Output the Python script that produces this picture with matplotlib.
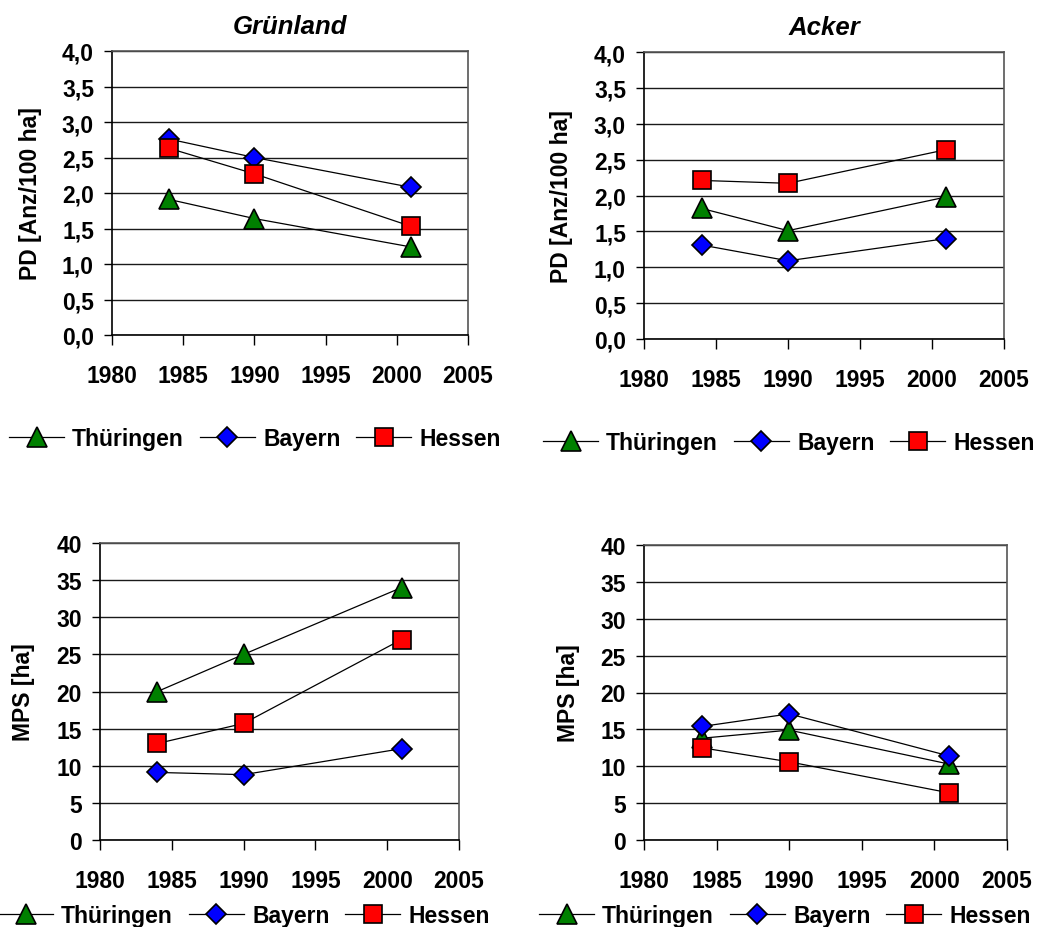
import matplotlib
matplotlib.use("Agg")
import matplotlib.pyplot as plt
from matplotlib.ticker import FuncFormatter

plt.rcParams["font.family"] = ["Liberation Sans", "DejaVu Sans"]
plt.rcParams["font.weight"] = "bold"

# Data
years = [1984, 1990, 2001]
series_names = ["Thüringen", "Bayern", "Hessen"]

pd_gruen_thue = [1.91, 1.64, 1.24]
pd_gruen_bay = [2.76, 2.50, 2.08]
pd_gruen_hes = [2.63, 2.27, 1.53]

pd_acker_thue = [1.82, 1.51, 1.98]
pd_acker_bay = [1.31, 1.09, 1.40]
pd_acker_hes = [2.21, 2.17, 2.64]

mps_gruen_thue = [20.0, 25.0, 34.0]
mps_gruen_bay = [9.1, 8.8, 12.3]
mps_gruen_hes = [13.0, 15.7, 27.0]

mps_acker_thue = [13.8, 14.9, 10.3]
mps_acker_bay = [15.4, 17.1, 11.4]
mps_acker_hes = [12.5, 10.6, 6.4]

x_ticks = [1980, 1985, 1990, 1995, 2000, 2005]

FS = 16.5
W, H = 1040, 928

# marker styles per series
styles = [
    dict(marker="^", markerfacecolor="#008000", markersize=14),
    dict(marker="D", markerfacecolor="#0000FF", markersize=10),
    dict(marker="s", markerfacecolor="#FF0000", markersize=12.5),
]


def comma_fmt(v, pos):
    return f"{v:.1f}".replace(".", ",")


def draw_panel(rect, data, ymax, ystep, ylabel, label_x, title=None, decimals=True):
    l, t, r, b = rect
    ax = fig.add_axes([l / W, 1 - b / H, (r - l) / W, (b - t) / H])
    lines = []
    for vals, st in zip(data, styles):
        (ln,) = ax.plot(years, vals, color="black", linewidth=0.9,
                        markeredgecolor="black", markeredgewidth=1.2, **st)
        lines.append(ln)
    ax.set_xlim(1980, 2005)
    ax.set_ylim(0, ymax)
    ax.set_xticks(x_ticks)
    yt = [i * ystep for i in range(int(round(ymax / ystep)) + 1)]
    ax.set_yticks(yt)
    if decimals:
        ax.yaxis.set_major_formatter(FuncFormatter(comma_fmt))
    ax.grid(axis="y", color="#1a1a1a", linewidth=1.0)
    ax.set_axisbelow(True)
    ax.tick_params(axis="x", direction="out", length=7, width=1, pad=14, labelsize=FS)
    ax.tick_params(axis="y", direction="out", length=6, width=1, pad=7, labelsize=FS)
    for s in ["left", "bottom"]:
        ax.spines[s].set_color("black")
        ax.spines[s].set_linewidth(1.2)
    for s in ["top", "right"]:
        ax.spines[s].set_color("#555555")
        ax.spines[s].set_linewidth(1.2)
    ax.set_ylabel(ylabel, fontsize=FS, fontweight="bold")
    ax.yaxis.set_label_coords(label_x, 0.5)
    if title:
        ax.set_title(title, fontsize=18.5, fontweight="bold", style="italic", pad=13)
    return lines


def add_legend(lines, cx, cy):
    fig.legend(lines, series_names, loc="center", bbox_to_anchor=(cx / W, 1 - cy / H),
               ncol=3, frameon=False, handlelength=2.4, handletextpad=0.35,
               columnspacing=0.7, prop=dict(size=FS, weight="bold"))


fig = plt.figure(figsize=(10.4, 9.28), dpi=100)

ln = draw_panel((112, 52, 468, 336), [pd_gruen_thue, pd_gruen_bay, pd_gruen_hes],
                4.0, 0.5, "PD [Anz/100 ha]", -0.197, title="Grünland")
add_legend(ln, 255, 440)

ln = draw_panel((644, 53, 1004, 340), [pd_acker_thue, pd_acker_bay, pd_acker_hes],
                4.0, 0.5, "PD [Anz/100 ha]", -0.197, title="Acker")
add_legend(ln, 789, 444)

ln = draw_panel((100, 544, 459, 841), [mps_gruen_thue, mps_gruen_bay, mps_gruen_hes],
                40, 5, "MPS [ha]", -0.181, decimals=False)
add_legend(ln, 244, 917)

ln = draw_panel((644, 546, 1007, 841), [mps_acker_thue, mps_acker_bay, mps_acker_hes],
                40, 5, "MPS [ha]", -0.176, decimals=False)
add_legend(ln, 785, 917)

fig.savefig("out.png", dpi=100, facecolor="white")
